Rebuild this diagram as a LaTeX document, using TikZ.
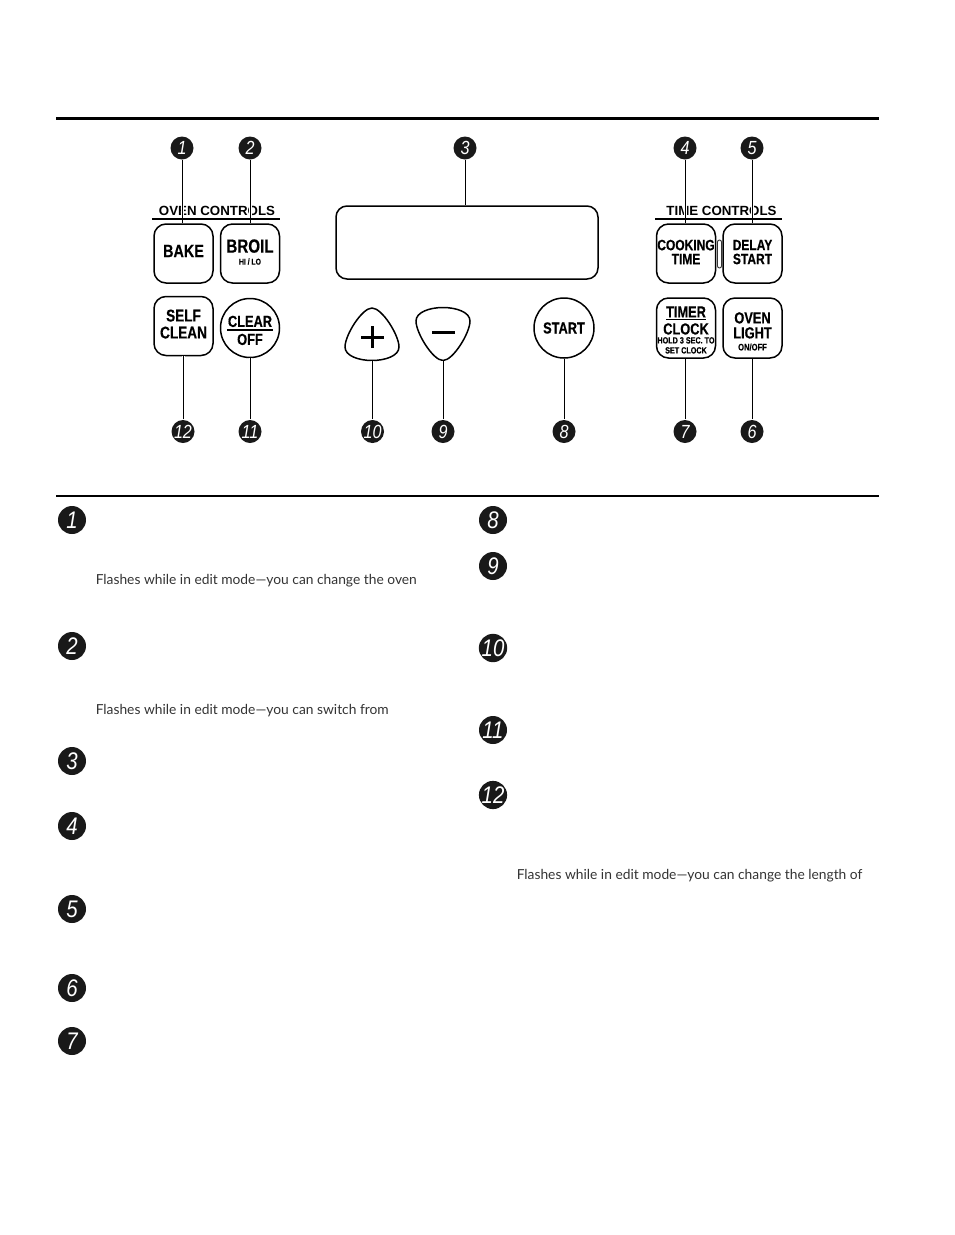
\documentclass[tikz,border=0pt]{standalone}
\usepackage{fontspec}
\setmainfont{Lato}
\newfontfamily\keyfont[FakeStretch=0.8,BoldFeatures={FakeBold=0.4}]{Liberation Sans}
\newfontfamily\numfont[FakeStretch=0.85]{Liberation Sans}
\newfontfamily\headfont{Liberation Sans}
\newcommand{\ks}[1]{\fontsize{#1}{#1}\selectfont}
\begin{document}
\begin{tikzpicture}[
      x = 1pt, y = -1pt,
      line width = 1.5pt,
      Key/.style={draw, rounded corners=12pt, inner sep=0pt, minimum width=59pt, minimum height=59pt, align=center, font=\fontsize{15}{15}\selectfont\keyfont\bfseries},
      Round/.style={draw, circle, inner sep=0pt, minimum size=59pt, align=center, font=\fontsize{15}{15}\selectfont\keyfont\bfseries},
      Big/.style={circle, fill=black!90, text=white, inner sep=0pt, minimum size=28pt, font=\fontsize{24}{24}\selectfont\numfont\itshape},
      Small/.style={circle, fill=black!90, text=white, inner sep=0pt, minimum size=23pt, font=\fontsize{19}{19}\selectfont\numfont\itshape},
      Head/.style={font=\fontsize{13.3}{14}\selectfont\headfont\bfseries, inner sep=0pt},
      Rule/.style={line width=2pt},
      Lead/.style={line width=1pt, preaction={draw, white, line width=3pt}},
      Note/.style={anchor=west, inner sep=0pt, text=black!80, font=\fontsize{13.8}{16}\selectfont}]
      \useasboundingbox (0,0) rectangle (954,1235);
      % rules of the page
      \coordinate (ruleAl) at (56,118);
      \coordinate (ruleAr) at (879,118);
      \coordinate (ruleBl) at (56,496);
      \coordinate (ruleBr) at (879,496);
      \draw[line width=3pt] (ruleAl) -- (ruleAr);
      \draw[line width=2pt] (ruleBl) -- (ruleBr);
      % keys
      \node[Key] (bake) at (183.5,253.5) {\ks{18}BAKE\rule[-5pt]{0pt}{1pt}};
      \node[Key] (broil) at (250,253.5) {\ks{19}BROIL\\[-3pt]\ks{8.5}HI / LO\rule[-3pt]{0pt}{1pt}};
      \node[Key] (self) at (183.5,326) {\ks{17}SELF\\[2pt]\ks{17}CLEAN\rule[-4pt]{0pt}{1pt}};
      \node[Round] (clear) at (250,328) {\ks{16}\rule{0pt}{16pt}CLEAR\\[-11pt]\rule{46pt}{1.5pt}\\[-1pt]\ks{16}OFF};
      \node[draw, rounded corners=11pt, minimum width=262pt, minimum height=73pt, inner sep=0pt] (display) at (467,242.5) {};
      \node[Round, minimum size=60pt] (start) at (564,328) {\ks{16}START};
      \node[Key] (cook) at (686,253.5) {\ks{15}COOKING\\[-1pt]\ks{15}TIME\rule[-3pt]{0pt}{1pt}};
      \node[Key] (delay) at (752.5,253.5) {\ks{15}DELAY\\[-1pt]\ks{15}START\rule[-3pt]{0pt}{1pt}};
      \node[Key, minimum height=60pt] (timer) at (686,328) {\ks{16}\rule{0pt}{15pt}TIMER\\[-12pt]\rule{40pt}{1pt}\\[-1pt]\ks{16}CLOCK\\[-6pt]\ks{9}HOLD 3 SEC. TO\\[-5pt]\ks{9}SET CLOCK};
      \node[Key, minimum height=60pt] (light) at (752.5,328) {\ks{16}\rule{0pt}{18pt}OVEN\\[0pt]\ks{16}LIGHT\\[-3pt]\ks{9.5}ON/OFF};
      \node[draw=black!80, line width=.9pt, rounded corners=2pt, minimum width=4pt, minimum height=28pt, inner sep=0pt] (lamp) at (719.5,254) {};
      % plus and minus keys
      \draw (372,308) .. controls (382,308) and (399,335) .. (399,347) .. controls (399,356) and (385,360.5) .. (372,360.5) .. controls (359,360.5) and (345,356) .. (345,347) .. controls (345,335) and (362,308) .. (372,308);
      \draw (443,360.5) .. controls (433,360.5) and (416,333) .. (416,321) .. controls (416,312) and (430,307.5) .. (443,307.5) .. controls (456,307.5) and (470,312) .. (470,321) .. controls (470,333) and (453,360.5) .. (443,360.5);
      \coordinate (plusl) at (361,337);
      \coordinate (plusr) at (384,337);
      \coordinate (plust) at (372.5,326);
      \coordinate (plusb) at (372.5,348);
      \coordinate (minusl) at (432,332);
      \coordinate (minusr) at (455,332);
      \coordinate (plusend) at (372.5,360.5);
      \coordinate (minusend) at (443,360.5);
      \draw[line width=3pt] (plusl) -- (plusr);
      \draw[line width=3pt] (plust) -- (plusb);
      \draw[line width=3pt] (minusl) -- (minusr);
      % group titles
      \node[Head] (oven) at (217,211) {OVEN CONTROLS};
      \node[Head] (time) at (721.5,211) {TIME CONTROLS};
      % callouts, top row
      \node[Small] (a1) at (182,148) {1};
      \node[Small] (a2) at (250,148) {2};
      \node[Small] (a3) at (465,148) {3};
      \node[Small] (a4) at (685,148) {4};
      \node[Small] (a5) at (752,148) {5};
      % callouts, bottom row
      \node[Small] (a12) at (183,431.5) {12};
      \node[Small] (a11) at (250,431.5) {11};
      \node[Small] (a10) at (372.5,431.5) {10};
      \node[Small] (a9) at (443,431.5) {9};
      \node[Small] (a8) at (564,431.5) {8};
      \node[Small] (a7) at (685,431.5) {7};
      \node[Small] (a6) at (752,431.5) {6};
      \draw[Lead] (a1) -- (a1 |- bake.north);
      \draw[Lead] (a2) -- (a2 |- broil.north);
      \draw[Lead] (a3) -- (a3 |- display.north);
      \draw[Lead] (a4) -- (a4 |- cook.north);
      \draw[Lead] (a5) -- (a5 |- delay.north);
      \draw[Lead] (a12) -- (a12 |- self.south);
      \draw[Lead] (a11) -- (a11 |- clear.south);
      \draw[Lead] (a10) -- (plusend);
      \draw[Lead] (a9) -- (minusend);
      \draw[Lead] (a8) -- (a8 |- start.south);
      \draw[Lead] (a7) -- (a7 |- timer.south);
      \draw[Lead] (a6) -- (a6 |- light.south);
      \coordinate (ovenl) at (152,219);
      \coordinate (ovenr) at (280,219);
      \coordinate (timel) at (655,219);
      \coordinate (timer2) at (782,219);
      \draw[Rule] (ovenl) -- (ovenr);
      \draw[Rule] (timel) -- (timer2);
      % list of keys, left column
      \foreach \n/\y in {1/520,2/646,3/761,4/826,5/909,6/988,7/1041}
        \node[Big] (l\n) at (72,\y) {\n};
      % list of keys, right column
      \foreach \n/\y in {8/520,9/566,10/648,11/730,12/795}
        \node[Big] (r\n) at (493,\y) {\n};
      \node[Note] (note1) at (95,581) {Flashes while in edit mode—you can change the oven};
      \node[Note] (note2) at (95,711) {Flashes while in edit mode—you can switch from};
      \node[Note] (note3) at (516,876) {Flashes while in edit mode—you can change the length of};
    \end{tikzpicture}
\end{document}
